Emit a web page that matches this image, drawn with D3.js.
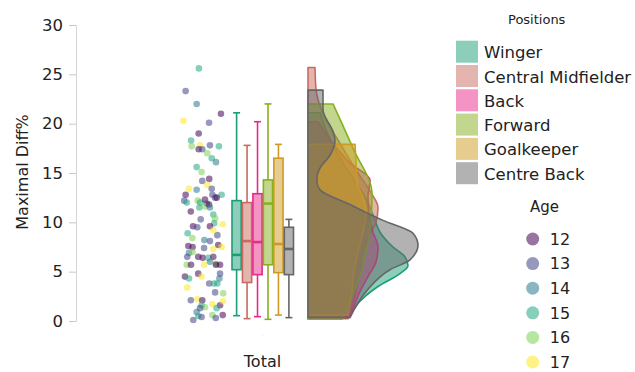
<!DOCTYPE html>
<html>
<head>
<meta charset="utf-8">
<script src="https://cdn.jsdelivr.net/npm/d3@7"></script>
<style>
  html, body { margin: 0; padding: 0; background: #fff; }
  svg { display: block; font-family: "DejaVu Sans", sans-serif; }
</style>
</head>
<body>
<script>
// ---- data ---------------------------------------------------------------
const group = ["Total"];
const positions = ["Winger", "Central Midfielder", "Back", "Forward", "Goalkeeper", "Centre Back"];
const positionColors = ["#1b9e77", "#c86b5e", "#e7298a", "#86b01c", "#cf9a22", "#666666"];
const ages = [12, 13, 14, 15, 16, 17];
const yTicks = [0, 5, 10, 15, 20, 25, 30];

// box summaries per position: [min, q1, median, q3, max]
const boxMin    = [0.54, 0.24, 0.44, 0.17, 0.6, 0.34];
const boxQ1     = [5.2, 3.9, 4.7, 5.7, 4.9, 4.7];
const boxMedian = [6.7, 8.1, 8.0, 11.9, 7.8, 7.3];
const boxQ3     = [12.2, 12.0, 12.9, 14.3, 16.5, 9.5];
const boxMax    = [21.1, 17.8, 20.2, 22.0, 17.9, 10.3];

// density profiles per position: [value, density]
const densityWinger = [[0.54,0.042],[2,0.052],[3.5,0.07],[4.8,0.092],[5.6,0.1],[6.5,0.097],[7.5,0.085],[9,0.072],[10.5,0.066],[12,0.06],[14,0.048],[16,0.035],[18,0.024],[21.1,0.012]];
const densityMidfielder = [[0.24,0.04],[3,0.048],[5,0.052],[7,0.055],[8.5,0.06],[10,0.068],[11.5,0.07],[13,0.063],[15,0.05],[18,0.032],[21,0.015],[23.5,0.008],[25.7,0.007]];
const densityBack = [[0.44,0.042],[1.5,0.046],[3,0.052],[4.5,0.06],[6,0.068],[7.5,0.07],[9,0.065],[10.9,0.061],[12.6,0.06],[14.3,0.062],[16,0.042],[18,0.025],[20.2,0.01]];
const densityForward = [[0.17,0.034],[2,0.042],[4,0.05],[7,0.058],[10,0.063],[12.9,0.064],[17.5,0.045],[22.0,0.025]];
const densityGoalkeeper = [[0.6,0.04],[3,0.044],[5,0.046],[7,0.05],[9,0.055],[11,0.058],[12.5,0.055],[14,0.049],[16,0.048],[17.9,0.047]];
const densityCentreBack = [[0.34,0.042],[3.1,0.059],[5.2,0.082],[6.2,0.102],[7.7,0.11],[8.9,0.105],[10.2,0.075],[11.8,0.042],[13.3,0.012],[14.1,0.009],[14.6,0.009],[15.5,0.012],[16.8,0.022],[18.3,0.027],[19.2,0.025],[21.4,0.015],[23.4,0.015]];
const densities = [densityWinger, densityMidfielder, densityBack, densityForward, densityGoalkeeper, densityCentreBack];

// individual observations: value, age, horizontal jitter (-1..1)
const pointValues = [25.6,23.3,22.0,20.3,21.0,20.1,19.0,18.3,17.7,17.8,17.4,17.4,17.8,17.7,17.0,16.5,16.1,15.6,15.1,14.2,14.4,13.8,13.4,13.3,13.4,12.8,12.8,12.8,12.2,12.0,12.2,12.0,12.3,11.9,12.5,12.5,11.5,11.6,11.8,11.5,11.1,10.8,10.3,10.4,9.9,9.8,9.6,9.5,8.9,8.7,9.6,9.2,8.4,8.2,8.1,7.6,7.5,7.7,7.5,7.4,7.3,6.9,7.0,6.5,6.5,6.4,6.4,6.5,6.0,5.8,5.7,5.7,5.7,5.7,5.7,4.5,4.3,4.8,4.5,3.8,3.8,3.8,4.3,4.8,3.4,2.9,2.8,2.1,2.2,2.1,1.6,1.7,1.6,2.0,1.3,0.9,0.1,0.5,0.4,0.6,0.3,0.6,1.4,1.3];
const pointAges = [15,13,14,17,12,13,12,15,16,17,12,13,13,15,16,15,14,15,16,13,12,17,17,14,13,13,15,12,13,15,16,15,12,13,13,12,15,16,12,14,12,15,13,16,15,17,12,13,15,13,12,17,16,14,13,12,12,12,17,13,17,14,16,13,12,12,15,12,14,16,16,12,17,12,12,12,15,12,17,13,15,15,14,13,17,13,16,13,17,12,15,17,12,17,15,14,13,15,13,16,13,12,16,13];
const pointJitter = [-0.16,-0.75,-0.26,-0.85,0.82,0.29,-0.17,-0.51,-0.48,-0.11,-0.17,-0.01,0.33,0.73,0.21,0.41,0.6,-0.26,-0.04,-0.01,0.3,0.21,-0.6,-0.26,0.41,0.44,0.85,-0.75,-0.81,-0.7,-0.21,-0.11,0.11,0.19,0.56,0.63,-0.14,0.11,0.29,0.33,-0.52,0.48,-0.08,0.56,0.52,0.9,-0.42,-0.23,-0.66,0.66,0.33,0.48,-0.45,0.08,0.33,-0.63,-0.44,0.7,0.85,0.07,0.48,-0.6,-0.44,-0.68,-0.19,0.01,0.26,0.48,0.33,0.59,-0.7,-0.51,0.07,0.6,0.78,-0.78,-0.6,-0.19,-0.04,0.3,0.51,0.66,0.75,0.78,-0.68,0.56,0.92,-0.52,-0.23,-0.01,-0.04,0.44,0.78,0.91,0.63,-0.26,-0.41,-0.19,-0.04,0.44,0.59,0.9,0.11,-0.11];

// ---- chart ----------------------------------------------------------------
const W = 635, H = 372;
const svg = d3.select("body").append("svg").attr("width", W).attr("height", H);

const y = d3.scaleLinear().domain([0, 30]).range([321, 25]);
const xGroup = d3.scaleBand().domain(group).range([80, 445]);
const cx = xGroup("Total") + xGroup.bandwidth() / 2;

const color = d3.scaleOrdinal().domain(positions).range(positionColors);
const ageColor = d3.scaleSequential(d3.interpolateViridis).domain([12, 17]);

// y axis
const yAxis = svg.append("g")
  .attr("transform", "translate(76,0)")
  .call(d3.axisLeft(y).tickValues(yTicks).tickSize(7).tickSizeOuter(0).tickPadding(6));
yAxis.select(".domain").attr("stroke", "#d6d6d6");
yAxis.selectAll(".tick line").attr("stroke", "#c8c8c8");
yAxis.selectAll(".tick text").attr("fill", "#222").style("font-size", "16.5px").style("font-family", "DejaVu Sans");

svg.append("text")
  .attr("transform", "translate(28,172) rotate(-90)")
  .attr("text-anchor", "middle")
  .attr("fill", "#222")
  .style("font-size", "16px")
  .text("Maximal Diff%");

// x axis (single group)
const xAxis = svg.append("g")
  .attr("transform", "translate(0,334)")
  .call(d3.axisBottom(xGroup).tickSize(2).tickPadding(20));
xAxis.select(".domain").remove();
xAxis.selectAll(".tick line").attr("stroke", "#eee");
xAxis.selectAll(".tick text").attr("fill", "#222").style("font-size", "16px").style("font-family", "DejaVu Sans");

// jittered points
const stripHalf = 22.5;
const stripCenter = cx - 60;
svg.append("g").selectAll("circle")
  .data(pointValues.map((v, i) => ({ v, age: pointAges[i], j: pointJitter[i] })))
  .join("circle")
  .attr("cx", d => stripCenter + d.j * stripHalf)
  .attr("cy", d => y(d.v))
  .attr("r", 3.3)
  .attr("fill", d => ageColor(d.age))
  .attr("fill-opacity", 0.55);

// box plots
const xBox = d3.scaleBand().domain(positions).range([cx - 30.5, cx + 31]).paddingInner(0.12);
const boxes = svg.append("g").selectAll("g")
  .data(positions.map((p, i) => ({ p, min: boxMin[i], q1: boxQ1[i], med: boxMedian[i], q3: boxQ3[i], max: boxMax[i] })))
  .join("g")
  .attr("transform", d => `translate(${xBox(d.p)},0)`);
const bw = xBox.bandwidth();
boxes.append("line").attr("x1", bw / 2).attr("x2", bw / 2)
  .attr("y1", d => y(d.max)).attr("y2", d => y(d.min))
  .attr("stroke", d => color(d.p)).attr("stroke-width", 1.6);
boxes.selectAll("line.cap")
  .data(d => [{ p: d.p, v: d.min }, { p: d.p, v: d.max }])
  .join("line").attr("class", "cap")
  .attr("x1", bw / 2 - 3.5).attr("x2", bw / 2 + 3.5)
  .attr("y1", d => y(d.v)).attr("y2", d => y(d.v))
  .attr("stroke", d => color(d.p)).attr("stroke-width", 1.6);
boxes.append("rect")
  .attr("x", 0).attr("width", bw)
  .attr("y", d => y(d.q3)).attr("height", d => y(d.q1) - y(d.q3))
  .attr("fill", "#fff");
boxes.append("rect")
  .attr("x", 0).attr("width", bw)
  .attr("y", d => y(d.q3)).attr("height", d => y(d.q1) - y(d.q3))
  .attr("fill", d => color(d.p)).attr("fill-opacity", 0.5)
  .attr("stroke", d => color(d.p)).attr("stroke-width", 1.6);
boxes.append("line").attr("x1", 0).attr("x2", bw)
  .attr("y1", d => y(d.med)).attr("y2", d => y(d.med))
  .attr("stroke", d => color(d.p)).attr("stroke-width", 2.6);

// half-violin densities
const x0 = cx + 45.5;
const xDens = d3.scaleLinear().domain([0, 0.1]).range([x0, x0 + 100]);
const area = d3.area()
  .curve(d3.curveMonotoneY)
  .y(d => y(d[0]))
  .x0(x0)
  .x1(d => xDens(d[1]));
svg.append("g").selectAll("path")
  .data(positions.map((p, i) => ({ p, pts: densities[i] })))
  .join("path")
  .attr("d", d => area(d.pts) + "Z")
  .attr("fill", d => color(d.p)).attr("fill-opacity", 0.5)
  .attr("stroke", d => color(d.p)).attr("stroke-width", 1.6)
  .attr("stroke-linejoin", "round");

// legends
const legend = svg.append("g");
legend.append("text").attr("x", 508).attr("y", 24)
  .attr("fill", "#222").style("font-size", "13px").text("Positions");
const li = legend.selectAll("g.pos").data(positions).join("g").attr("class", "pos")
  .attr("transform", (d, i) => `translate(456,${40.7 + i * 24.3})`);
li.append("rect").attr("width", 22).attr("height", 22)
  .attr("fill", d => color(d)).attr("fill-opacity", 0.5);
li.append("text").attr("x", 28).attr("y", 17.5)
  .attr("fill", "#222").style("font-size", "16.5px").text(d => d);

legend.append("text").attr("x", 530).attr("y", 212)
  .attr("fill", "#222").style("font-size", "15px").text("Age");
const ai = legend.selectAll("g.age").data(ages).join("g").attr("class", "age")
  .attr("transform", (d, i) => `translate(532.7,${239 + i * 24.6})`);
ai.append("circle").attr("r", 6.5)
  .attr("fill", d => ageColor(d)).attr("fill-opacity", 0.55);
ai.append("text").attr("x", 17).attr("y", 5.8)
  .attr("fill", "#222").style("font-size", "16px").text(d => d);
</script>
</body>
</html>
